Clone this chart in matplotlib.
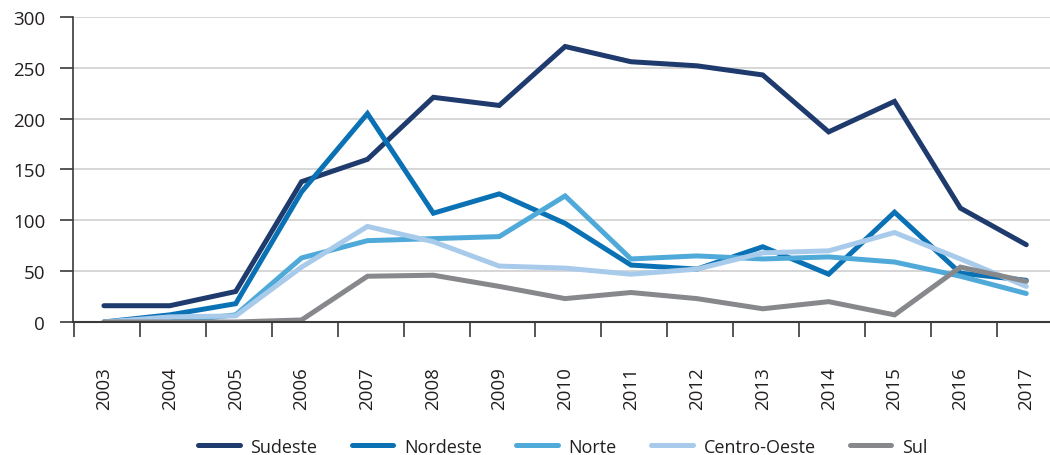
import matplotlib
matplotlib.use("Agg")
import matplotlib.pyplot as plt

plt.rcParams['font.family'] = ['Open Sans', 'DejaVu Sans']

years = [str(y) for y in range(2003, 2018)]

sudeste = [16, 16, 30, 138, 160, 221, 213, 271, 256, 252, 243, 187, 217, 112, 76]
nordeste = [0, 7, 18, 128, 205, 107, 126, 97, 56, 52, 74, 47, 108, 48, 41]
norte = [0, 0, 7, 63, 80, 82, 84, 124, 62, 65, 62, 64, 59, 45, 28]
centro_oeste = [0, 5, 6, 54, 94, 79, 55, 53, 47, 52, 68, 70, 88, 62, 35]
sul = [0, 0, 0, 2, 45, 46, 35, 23, 29, 23, 13, 20, 7, 54, 40]

series = [
    ("Sudeste", sudeste, "#1f3a6d"),
    ("Nordeste", nordeste, "#0a72b4"),
    ("Norte", norte, "#4faad9"),
    ("Centro-Oeste", centro_oeste, "#a8cbeb"),
    ("Sul", sul, "#87888c"),
]

text_color = "#231f20"

fig = plt.figure(figsize=(10.5, 4.56), dpi=100)
ax = fig.add_axes([0.0695, 0.2917, 0.9305, 0.6688])

x = list(range(len(years)))
for name, values, color in series:
    ax.plot(x, values, color=color, linewidth=3.6, label=name,
            solid_capstyle="round", solid_joinstyle="miter")

ax.set_ylim(0, 300)
ax.set_xlim(-0.47, 14.36)
ax.set_yticks(range(0, 301, 50))
ax.grid(axis="y", color="#cfcfcf", linewidth=1.2)
ax.set_axisbelow(True)

# year labels sit at category centres, tick marks at the boundaries
ax.set_xticks(x)
ax.set_xticklabels(years, rotation=90)
ax.set_xticks([i - 0.45 for i in range(len(years))], minor=True)
ax.tick_params(axis="x", which="major", length=0, pad=32,
               labelsize=13.5, labelcolor=text_color)
ax.tick_params(axis="x", which="minor", length=11, width=1.2,
               color="#3a3a3a", direction="out")
ax.tick_params(axis="y", length=9.5, width=1.2, color="#3a3a3a",
               pad=10.5, labelsize=13.5, labelcolor=text_color)

for side in ["top", "right"]:
    ax.spines[side].set_visible(False)
ax.spines["left"].set_color("#3a3a3a")
ax.spines["left"].set_linewidth(1.2)
ax.spines["bottom"].set_color("#3a3a3a")
ax.spines["bottom"].set_linewidth(1.5)

fig.legend(loc="center", bbox_to_anchor=(0.536, 0.018), ncol=5,
           frameon=False, fontsize=13, handlelength=2.3,
           handletextpad=0.6, columnspacing=1.9, labelcolor=text_color)

fig.savefig("out.png", dpi=100)
